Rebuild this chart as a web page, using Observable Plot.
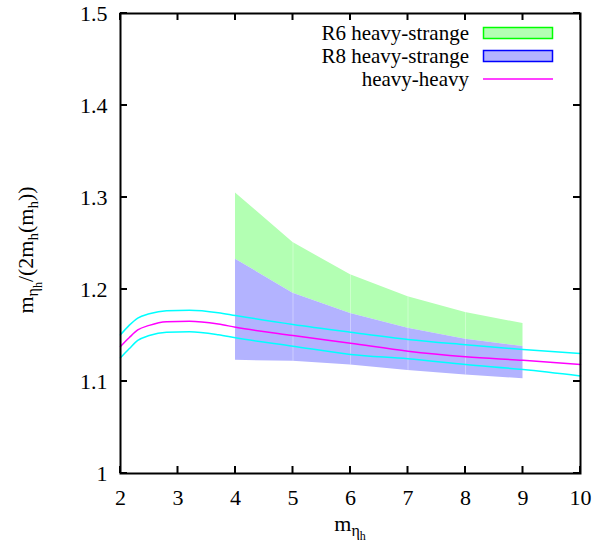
<!DOCTYPE html>
<html>
<head>
<meta charset="utf-8">
<script src="https://cdn.jsdelivr.net/npm/d3@7"></script>
<script src="https://cdn.jsdelivr.net/npm/@observablehq/plot@0.6"></script>
<style>
  html, body { margin: 0; padding: 0; background: #fff; font-family: "Liberation Serif"; }
</style>
</head>
<body>
<div id="chart"></div>
<script>
// ---- data ----
const xTicks = [2, 3, 4, 5, 6, 7, 8, 9, 10];
const yTicks = [1, 1.1, 1.2, 1.3, 1.4, 1.5];

// heavy-strange bands
const bandX = [4, 5, 6, 7, 8, 9];
const r6Upper = [1.305, 1.251, 1.216, 1.192, 1.175, 1.163];
const r8Upper = [1.233, 1.196, 1.174, 1.158, 1.146, 1.138];
const r8Lower = [1.123, 1.122, 1.118, 1.112, 1.107, 1.103];

// heavy-heavy curve with error band
const hhX = [2, 2.15, 2.3, 2.5, 2.8, 3.2, 3.7, 4, 5, 6, 7, 8, 9, 10];
const hhCentral = [1.138, 1.1475, 1.156, 1.161, 1.165, 1.1656, 1.1625, 1.159, 1.150, 1.1417, 1.133, 1.127, 1.123, 1.1185];
const hhUpper = [1.1507, 1.161, 1.169, 1.1736, 1.177, 1.1775, 1.1748, 1.1717, 1.162, 1.1536, 1.1457, 1.140, 1.1348, 1.1304];
const hhLower = [1.1257, 1.1355, 1.1446, 1.150, 1.1536, 1.154, 1.1508, 1.1475, 1.1384, 1.1293, 1.1247, 1.1185, 1.113, 1.106];

const legendLabels = ["R6 heavy-strange", "R8 heavy-strange", "heavy-heavy"];

// ---- tables ----
const band = bandX.map((x, i) => ({x, r6u: r6Upper[i], r8u: r8Upper[i], r8l: r8Lower[i]}));
const hh = hhX.map((x, i) => ({x, c: hhCentral[i], u: hhUpper[i], l: hhLower[i]}));
const seams = band.slice(1, -1);

const font = "Liberation Serif";

const chart = Plot.plot({
  width: 594,
  height: 554,
  marginLeft: 120,
  marginRight: 14,
  marginTop: 13,
  marginBottom: 81,
  style: {fontFamily: font, fontSize: "22px"},
  x: {domain: [2, 10], label: null},
  y: {domain: [1, 1.5], label: null},
  marks: [
    Plot.areaY(band, {x: "x", y1: "r8u", y2: "r6u", fill: "#b3ffb3"}),
    Plot.areaY(band, {x: "x", y1: "r8l", y2: "r8u", fill: "#b3b3ff"}),
    Plot.ruleX(seams, {x: "x", y1: "r8l", y2: "r6u", stroke: "white", strokeOpacity: 0.35, strokeWidth: 1}),
    Plot.line(hh, {x: "x", y: "u", stroke: "#00ffff", strokeWidth: 1.5, curve: "monotone-x"}),
    Plot.line(hh, {x: "x", y: "l", stroke: "#00ffff", strokeWidth: 1.5, curve: "monotone-x"}),
    Plot.line(hh, {x: "x", y: "c", stroke: "#ff00ff", strokeWidth: 1.5, curve: "monotone-x"}),
    Plot.axisX(xTicks, {anchor: "bottom", tickSize: 0, tickPadding: 16, label: null, fontSize: 22, fontFamily: font}),
    Plot.axisY(yTicks, {anchor: "left", tickSize: 0, tickPadding: 13, label: null, fontSize: 22, fontFamily: font, tickFormat: d => String(+d.toFixed(1))}),
    Plot.frame({stroke: "black", strokeWidth: 2})
  ]
});

document.getElementById("chart").appendChild(chart);

// inward ticks on all four sides, drawn from the plot's scales
const svg = d3.select(chart).attr("font-family", font);
const sx = chart.scale("x"), sy = chart.scale("y");
const [x0, x1] = sx.range, [y0, y1] = sy.range; // y0 bottom, y1 top
const tickLen = 7;
const tg = svg.append("g").attr("stroke", "black").attr("stroke-width", 2);
xTicks.forEach(v => {
  const px = sx.apply(v);
  tg.append("line").attr("x1", px).attr("x2", px).attr("y1", y0).attr("y2", y0 - tickLen);
  tg.append("line").attr("x1", px).attr("x2", px).attr("y1", y1).attr("y2", y1 + tickLen);
});
yTicks.forEach(v => {
  const py = sy.apply(v);
  tg.append("line").attr("x1", x0).attr("x2", x0 + tickLen).attr("y1", py).attr("y2", py);
  tg.append("line").attr("x1", x1).attr("x2", x1 - tickLen).attr("y1", py).attr("y2", py);
});

// axis titles with subscripts
const xt = svg.append("text")
  .attr("x", (x0 + x1) / 2).attr("y", 531)
  .attr("text-anchor", "middle").attr("font-size", 22).attr("fill", "black");
xt.append("tspan").text("m");
xt.append("tspan").attr("dy", 5).attr("font-size", 16).text("η");
xt.append("tspan").attr("dy", 4).attr("font-size", 12).text("h");

const yt = svg.append("text")
  .attr("transform", `translate(33,250) rotate(-90)`)
  .attr("text-anchor", "middle").attr("font-size", 22).attr("fill", "black");
yt.append("tspan").text("m");
yt.append("tspan").attr("dy", 5).attr("font-size", 16).text("η");
yt.append("tspan").attr("dy", 4).attr("font-size", 12).text("h");
yt.append("tspan").attr("dy", -9).text("/(2m");
yt.append("tspan").attr("dy", 5).attr("font-size", 15).text("h");
yt.append("tspan").attr("dy", -5).text("(m");
yt.append("tspan").attr("dy", 5).attr("font-size", 15).text("h");
yt.append("tspan").attr("dy", -5).text("))");

// legend
const lg = svg.append("g").attr("font-size", 21);
const rows = [
  {label: legendLabels[0], type: "box", fill: "#b3ffb3", stroke: "#00ff00"},
  {label: legendLabels[1], type: "box", fill: "#b3b3ff", stroke: "#0000ff"},
  {label: legendLabels[2], type: "line", stroke: "#ff00ff"}
];
rows.forEach((r, i) => {
  const base = 40 + i * 23;
  const cy = base - 7;
  lg.append("text").attr("x", 469).attr("y", base)
    .attr("text-anchor", "end").attr("fill", "black").text(r.label);
  if (r.type === "box") {
    lg.append("rect").attr("x", 483.5).attr("y", cy - 5.5).attr("width", 69).attr("height", 11)
      .attr("fill", r.fill).attr("stroke", r.stroke).attr("stroke-width", 1.5);
  } else {
    lg.append("line").attr("x1", 483).attr("x2", 553).attr("y1", cy).attr("y2", cy)
      .attr("stroke", r.stroke).attr("stroke-width", 1.5);
  }
});

svg.selectAll("text").attr("font-family", font).style("font-family", font);
</script>
</body>
</html>
